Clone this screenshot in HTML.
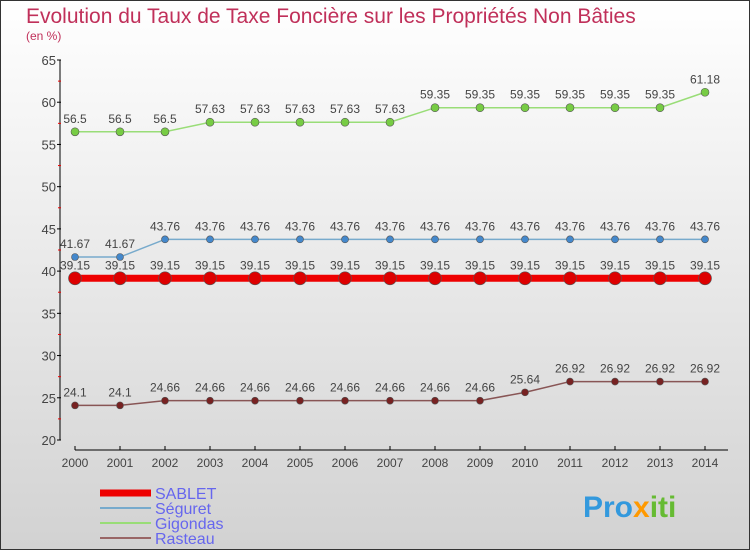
<!DOCTYPE html>
<html><head><meta charset="utf-8"><style>
body{margin:0}
svg{display:block;font-family:"Liberation Sans",sans-serif}
</style></head><body>
<svg width="750" height="550">
<defs><linearGradient id="bg" x1="0" y1="0" x2="0" y2="1"><stop offset="0" stop-color="#ffffff"/><stop offset="1" stop-color="#d2d2d2"/></linearGradient></defs>
<rect x="0.5" y="0.5" width="749" height="549" fill="url(#bg)" stroke="#333"/>
<text x="26" y="23" font-size="21" fill="#c0305a">Evolution du Taux de Taxe Foncière sur les Propriétés Non Bâties</text>
<text x="26" y="40" font-size="12" fill="#c0305a">(en %)</text>
<g id="axes"></g>
<g id="series"></g>
<g id="legend"></g>
<text x="583" y="517" font-size="30" font-weight="bold"><tspan fill="#3399dd">Pro</tspan><tspan fill="#ff9900">x</tspan><tspan fill="#66bb33">iti</tspan></text>
</svg>
<script>
const years=[2000,2001,2002,2003,2004,2005,2006,2007,2008,2009,2010,2011,2012,2013,2014];
const yTicks=[20,25,30,35,40,45,50,55,60,65];
const sablet=[39.15,39.15,39.15,39.15,39.15,39.15,39.15,39.15,39.15,39.15,39.15,39.15,39.15,39.15,39.15];
const seguret=[41.67,41.67,43.76,43.76,43.76,43.76,43.76,43.76,43.76,43.76,43.76,43.76,43.76,43.76,43.76];
const gigondas=[56.5,56.5,56.5,57.63,57.63,57.63,57.63,57.63,59.35,59.35,59.35,59.35,59.35,59.35,61.18];
const rasteau=[24.1,24.1,24.66,24.66,24.66,24.66,24.66,24.66,24.66,24.66,25.64,26.92,26.92,26.92,26.92];
const NS='http://www.w3.org/2000/svg';
const X=i=>75+i*45;
const Y=v=>440-(v-20)*(380/45);
function mk(t,a,p){const e=document.createElementNS(NS,t);for(const k in a)e.setAttribute(k,a[k]);p.appendChild(e);return e;}
const ax=document.getElementById('axes');
let e=mk('line',{x1:60,y1:60,x2:60,y2:440,stroke:'#000'},ax);

e=mk('line',{x1:75,y1:450,x2:728,y2:450,stroke:'#000'},ax);

yTicks.forEach((v,i)=>{
 mk('line',{x1:57,y1:Y(v),x2:61,y2:Y(v),stroke:'#000'},ax);
 if(i<yTicks.length-1)mk('line',{x1:58,y1:Y(v+2.5),x2:61,y2:Y(v+2.5),stroke:'#e00'},ax);
 const t=mk('text',{x:56,y:Y(v)+5,'font-size':13,fill:'#444','text-anchor':'end'},ax);
 t.textContent=v;
});
years.forEach((yr,i)=>{
 mk('line',{x1:X(i),y1:446,x2:X(i),y2:450,stroke:'#000'},ax);
 const t=mk('text',{x:X(i),y:467,'font-size':12,fill:'#444','text-anchor':'middle'},ax);
 t.textContent=yr;
});
const sg=document.getElementById('series');
function draw(name,arr,color,dot,w,r,fmt){
 const g=mk('g',{},sg);
 
 mk('polyline',{points:arr.map((v,i)=>X(i)+','+Y(v)).join(' '),fill:'none',stroke:color,'stroke-width':w},g);
 arr.forEach((v,i)=>{
  const c=mk('circle',{cx:X(i),cy:Y(v),r:r,fill:dot,stroke:'#555','stroke-width':0.6},g);
  
  const t=mk('text',{x:X(i),y:Y(v)-9,'font-size':12,fill:'#444','text-anchor':'middle'},g);
  
  t.textContent=String(v);
 });
}
draw('gigondas',gigondas,'#99dd77','#77cc44',1.5,4);
draw('seguret',seguret,'#77aacc','#4488cc',1.5,3.5);
draw('rasteau',rasteau,'#885555','#772222',1.5,3.5);
draw('sablet',sablet,'#ee0000','#dd0000',7,6.5);
const lg=document.getElementById('legend');
[['SABLET','#ee0000',7],['Séguret','#77aacc',2],['Gigondas','#99dd77',2],['Rasteau','#996666',2]].forEach((d,i)=>{
 const y=493+i*15;
 const l=mk('line',{x1:100,y1:y,x2:151,y2:y,stroke:d[1],'stroke-width':d[2]},lg);
 
 const t=mk('text',{x:155,y:y+6,'font-size':16,fill:'#6666ee'},lg);
 t.textContent=d[0];
});
</script>
</body></html>
